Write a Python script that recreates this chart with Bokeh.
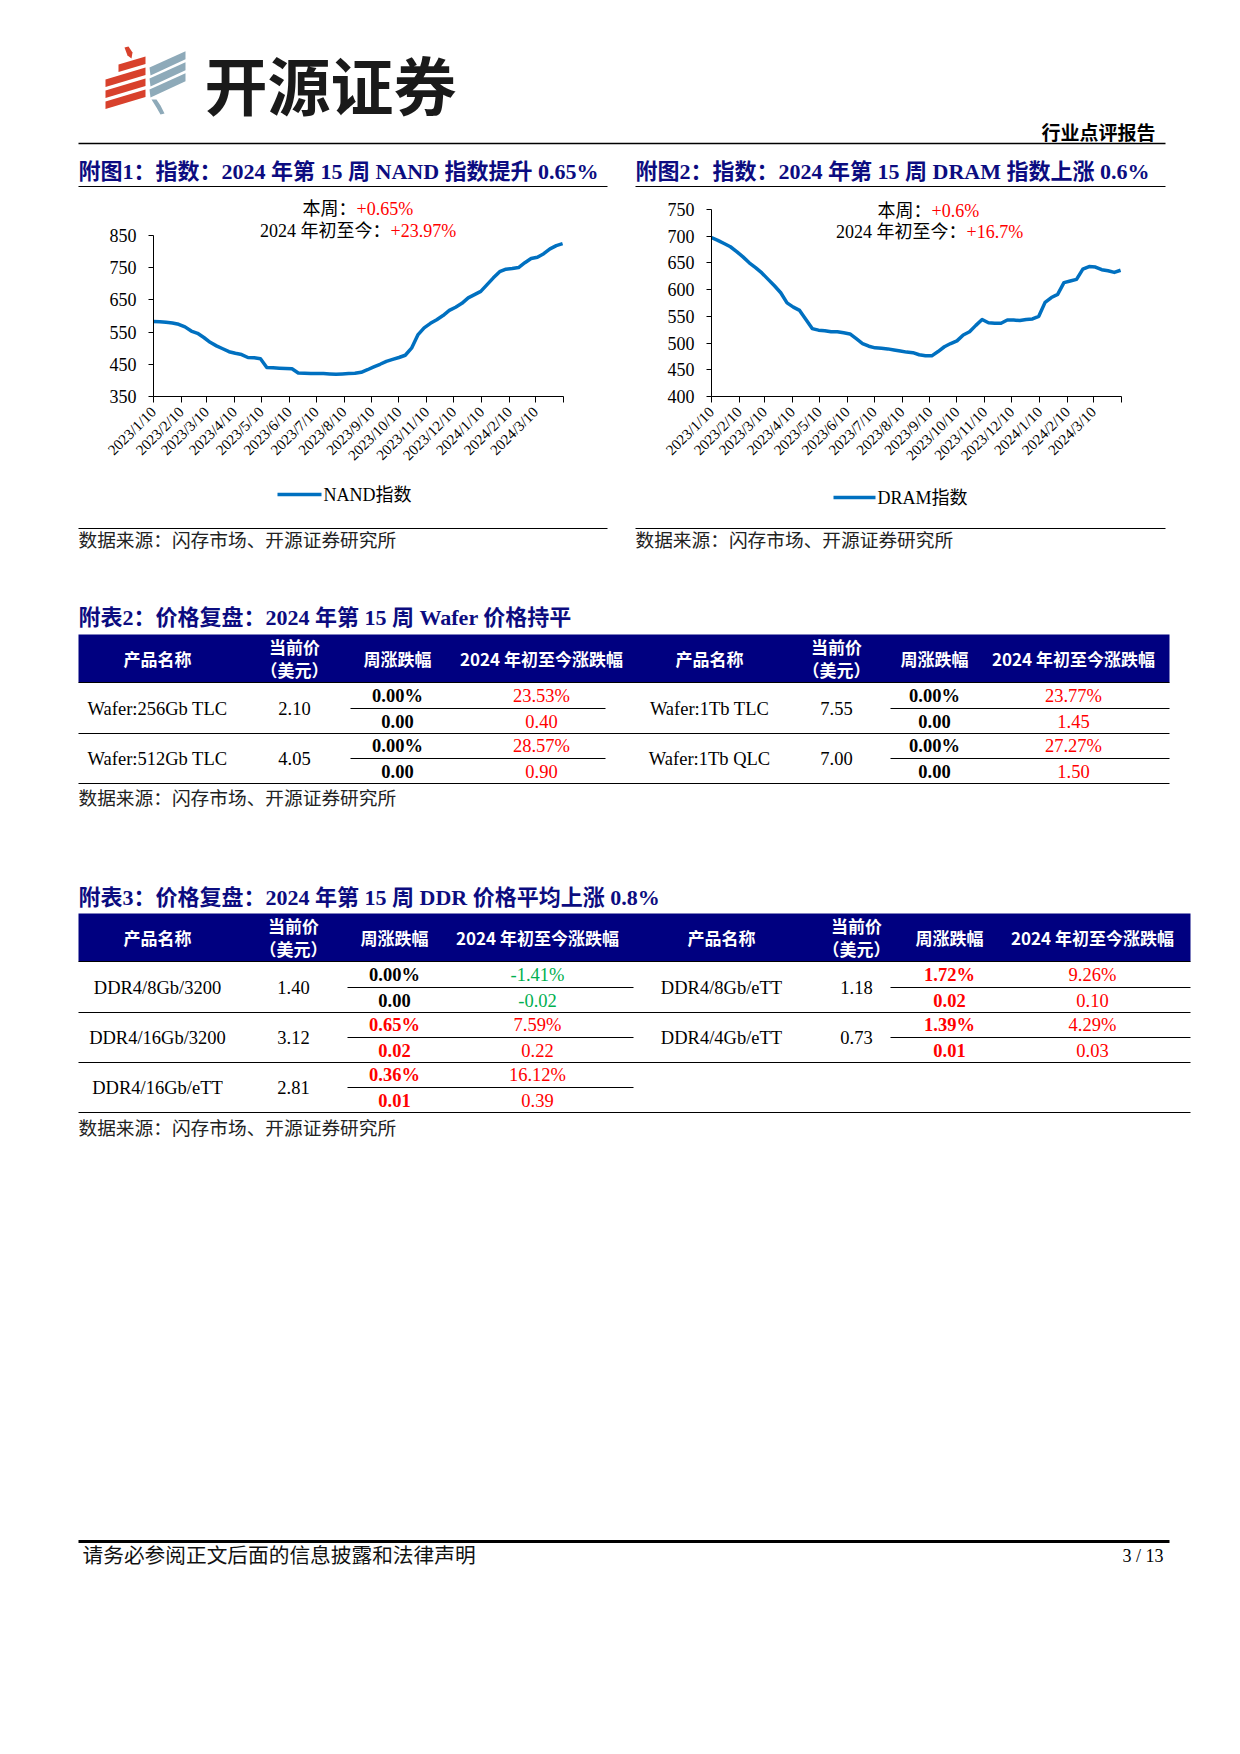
import pandas as pd
from math import pi
from bokeh.plotting import figure
from bokeh.models import Range1d, FixedTicker
from bokeh.layouts import column, row
from bokeh.embed import file_html
from bokeh.resources import INLINE
from bokeh.core.properties import value

# ---------------- data ----------------
month_ticks = ["2023/1/10", "2023/2/10", "2023/3/10", "2023/4/10", "2023/5/10", "2023/6/10",
               "2023/7/10", "2023/8/10", "2023/9/10", "2023/10/10", "2023/11/10", "2023/12/10",
               "2024/1/10", "2024/2/10", "2024/3/10", "2024/4/10"]
hidden_tick_labels = ["2024/4/10"]
first_week = "2023-01-10"

nand_index = [583, 582, 580, 578, 574, 566, 553, 546, 533, 518,
              507, 498, 489, 484, 480, 471, 470, 467, 440, 439,
              438, 437, 436, 423, 422, 421, 421, 421, 420, 419,
              420, 421, 422, 425, 433, 442, 450, 459, 465, 471,
              478, 500, 541, 563, 577, 588, 601, 617, 627, 639,
              656, 666, 676, 697, 718, 737, 745, 747, 750, 765,
              778, 782, 793, 808, 818, 824]
dram_index = [697, 692, 686, 680, 671, 661, 650, 641, 631, 619,
              607, 594, 575, 567, 561, 544, 527, 524, 523, 521,
              521, 519, 517, 508, 499, 494, 491, 490, 489, 487,
              485, 483, 482, 478, 476, 476, 484, 493, 499, 504,
              515, 521, 533, 544, 538, 537, 537, 543, 543, 542,
              544, 545, 550, 576, 585, 591, 613, 616, 619, 638,
              643, 642, 637, 635, 632, 636]
nand_yticks = [350, 450, 550, 650, 750, 850]
dram_yticks = [400, 450, 500, 550, 600, 650, 700, 750]
nand_week, nand_ytd = "+0.65%", "+23.97%"
dram_week, dram_ytd = "+0.6%", "+16.7%"
legend_labels = ["NAND指数", "DRAM指数"]

chart_titles = ["附图1：指数：2024 年第 15 周 NAND 指数提升 0.65%",
                "附图2：指数：2024 年第 15 周 DRAM 指数上涨 0.6%"]
table_titles = ["附表2：价格复盘：2024 年第 15 周 Wafer 价格持平",
                "附表3：价格复盘：2024 年第 15 周 DDR 价格平均上涨 0.8%"]
source_text = "数据来源：闪存市场、开源证券研究所"
header_labels = ["产品名称", "当前价\n（美元）", "周涨跌幅", "2024 年初至今涨跌幅"]

wafer_l_names = ["Wafer:256Gb TLC", "Wafer:512Gb TLC"]
wafer_l_price = [2.10, 4.05]
wafer_l_wk_pct = [0.00, 0.00]
wafer_l_wk_abs = [0.00, 0.00]
wafer_l_ytd_pct = [23.53, 28.57]
wafer_l_ytd_abs = [0.40, 0.90]
wafer_r_names = ["Wafer:1Tb TLC", "Wafer:1Tb QLC"]
wafer_r_price = [7.55, 7.00]
wafer_r_wk_pct = [0.00, 0.00]
wafer_r_wk_abs = [0.00, 0.00]
wafer_r_ytd_pct = [23.77, 27.27]
wafer_r_ytd_abs = [1.45, 1.50]

ddr_l_names = ["DDR4/8Gb/3200", "DDR4/16Gb/3200", "DDR4/16Gb/eTT"]
ddr_l_price = [1.40, 3.12, 2.81]
ddr_l_wk_pct = [0.00, 0.65, 0.36]
ddr_l_wk_abs = [0.00, 0.02, 0.01]
ddr_l_ytd_pct = [-1.41, 7.59, 16.12]
ddr_l_ytd_abs = [-0.02, 0.22, 0.39]
ddr_r_names = ["DDR4/8Gb/eTT", "DDR4/4Gb/eTT"]
ddr_r_price = [1.18, 0.73]
ddr_r_wk_pct = [1.72, 1.39]
ddr_r_wk_abs = [0.02, 0.01]
ddr_r_ytd_pct = [9.26, 4.29]
ddr_r_ytd_abs = [0.10, 0.03]

# ---------------- style ----------------
SERIF = "'Liberation Serif', 'Noto Sans CJK SC', serif"
CJK = "'Noto Sans CJK SC', sans-serif"
NAVY = "#000080"
TITLE_C = "#0c0c80"
RED = "#ff0000"
GREEN = "#00b050"
BLUE = "#0070c0"
PAGE_W = 1240
ROW_TOP, ROW_BOT = 190, 472

def canvas(y0, y1):
    p = figure(width=PAGE_W, height=y1 - y0, x_range=Range1d(0, PAGE_W), y_range=Range1d(y1, y0),
               output_backend="svg", toolbar_location=None, min_border=0,
               x_axis_type=None, y_axis_type=None)
    p.outline_line_color = None
    p.background_fill_color = "white"
    p.border_fill_color = "white"
    return p

def txt(p, x, y, s, size, color="black", align="left", bold=False, font=SERIF):
    p.text(x=[x], y=[y], text=[s], text_font=value(font), text_font_size=f"{size}px",
           text_color=color, text_align=align, text_baseline="middle",
           text_font_style="bold" if bold else "normal")

def hline(p, x0, x1, y, w=1.0, color="black"):
    p.segment(x0=[x0], y0=[y], x1=[x1], y1=[y], line_color=color, line_width=w)

# ---------------- top canvas (page y 0..190) ----------------
top = canvas(0, ROW_TOP)
LOGO_RED = "#d8412c"
LOGO_BLUE = "#8eaab9"
red_xs, red_ys = [], []
for k in range(4):
    xl = 118 if k == 0 else 105
    s = 0.30
    yl_at105 = 68 + 11 * k
    ytl = yl_at105 - s * (xl - 105)
    ytr = yl_at105 - s * (145 - 105)
    red_xs.append([xl, 145, 145, xl])
    red_ys.append([ytl, ytr, ytr + 7.5, ytl + 7.5])
red_xs.append([124, 128, 132, 131, 127])
red_ys.append([47, 46, 52, 58, 55])
top.patches(red_xs, red_ys, fill_color=LOGO_RED, line_color=None)
blue_xs, blue_ys = [], []
for k in range(3):
    s = 0.45
    ytl = 67 + 11 * k
    ytr = ytl - s * (185 - 149)
    blue_xs.append([149, 185, 185, 150])
    blue_ys.append([ytl, ytr, ytr + 8, ytl + 8])
blue_xs.append([151, 156, 160, 164, 160, 156])
blue_ys.append([99, 99, 105, 113, 114, 107])
top.patches(blue_xs, blue_ys, fill_color=LOGO_BLUE, line_color=None)
txt(top, 204, 82, "开源证券", 63, color="#1a1a1a", bold=True, font=CJK)
txt(top, 1155, 131, "行业点评报告", 19, bold=True, align="right", font=CJK)
hline(top, 78, 1165, 143, 1.5)
txt(top, 78, 171, chart_titles[0], 22, color=TITLE_C, bold=True)
txt(top, 635, 171, chart_titles[1], 22, color=TITLE_C, bold=True)
hline(top, 78, 607, 186, 1.2)
hline(top, 635, 1165, 186, 1.2)

# ---------------- charts (page y 190..472) ----------------
base = pd.Timestamp(first_week)
tick_pos = [(pd.Timestamp(t.replace("/", "-")) - base).days for t in month_ticks]
tick_lab = {pos: ("" if t in hidden_tick_labels else t) for pos, t in zip(tick_pos, month_ticks)}

def chart(values, yticks, fig_x0, fig_w, frame_l, frame_r, y_top_px, y_bot_px,
          ann_join_px, ann_y_px, week_s, ytd_s):
    ymin, ymax = yticks[0], yticks[-1]
    upp = (ymax - ymin) / (y_bot_px - y_top_px)  # units per pixel
    frame_top_px = ROW_TOP + 5
    y_end = ymin + (y_bot_px - frame_top_px) * upp
    xmax = tick_pos[-1]
    p = figure(width=fig_w, height=ROW_BOT - ROW_TOP, x_range=Range1d(0, xmax),
               y_range=Range1d(ymin, y_end),
               output_backend="svg", toolbar_location=None,
               min_border_left=frame_l - fig_x0, min_border_right=fig_x0 + fig_w - frame_r,
               min_border_top=frame_top_px - ROW_TOP, min_border_bottom=ROW_BOT - y_bot_px)
    p.outline_line_color = None
    p.grid.visible = False
    p.background_fill_color = "white"
    p.border_fill_color = "white"
    dates = pd.date_range(first_week, periods=len(values), freq="7D")
    xs = [(d - base).days for d in dates]
    p.line(xs, values, line_color=BLUE, line_width=3.5, line_join="round")
    ya = p.yaxis[0]
    ya.ticker = FixedTicker(ticks=yticks)
    ya.bounds = (ymin, ymax)
    ya.major_tick_out = 5
    ya.major_tick_in = 0
    ya.minor_tick_line_color = None
    ya.axis_line_color = "black"
    ya.major_tick_line_color = "black"
    ya.major_label_text_font = SERIF
    ya.major_label_text_font_size = "18px"
    ya.major_label_text_color = "black"
    ya.major_label_standoff = 12
    xa = p.xaxis[0]
    xa.ticker = FixedTicker(ticks=tick_pos)
    xa.major_label_overrides = tick_lab
    xa.major_label_orientation = pi / 4
    xa.major_tick_out = 6
    xa.major_tick_in = 0
    xa.minor_tick_line_color = None
    xa.axis_line_color = "black"
    xa.major_tick_line_color = "black"
    xa.major_label_text_font = SERIF
    xa.major_label_text_font_size = "15px"
    xa.major_label_text_color = "black"
    xa.major_label_standoff = 7
    to_x = lambda px: (px - frame_l) / (frame_r - frame_l) * xmax
    to_y = lambda py: ymin + (y_bot_px - py) * upp
    for (lab, val), jx, py in zip([("本周：", week_s), ("2024 年初至今：", ytd_s)],
                                  ann_join_px, ann_y_px):
        txt(p, to_x(jx), to_y(py), lab, 18, align="right")
        txt(p, to_x(jx), to_y(py), val, 18, color=RED, align="left")
    return p

c1 = chart(nand_index, nand_yticks, 0, 620, 153, 563, 235, 397, [356, 390], [209, 231],
           nand_week, nand_ytd)
c2 = chart(dram_index, dram_yticks, 620, 620, 711, 1121, 209, 399, [931, 966], [211, 232],
           dram_week, dram_ytd)

# ---------------- bottom canvas (page y 472..1600) ----------------
bot = canvas(ROW_BOT, 1600)
for (lx0, lx1, ly), lab in zip([(277, 321, 494), (833, 875, 497)], legend_labels):
    hline(bot, lx0, lx1, ly, 3.5, color=BLUE)
    txt(bot, lx1 + 2, ly, lab, 18)
hline(bot, 78, 607, 528, 1.2)
hline(bot, 635, 1165, 528, 1.2)
txt(bot, 78, 540, source_text, 18.7, color="#222222")
txt(bot, 635, 540, source_text, 18.7, color="#222222")

def sign_color(v):
    return RED if v > 0 else (GREEN if v < 0 else "black")

def draw_table(p, title, title_y, x0, x1, hdr_top, hdr_bot, colx, sub_spans, groups, src_y):
    txt(p, 78, title_y, title, 22, color=TITLE_C, bold=True)
    p.quad(left=[x0], right=[x1], top=[hdr_top], bottom=[hdr_bot], fill_color=NAVY, line_color=None)
    hline(p, x0, x1, hdr_bot, 1.2)
    hmid = (hdr_top + hdr_bot) / 2
    for cx in colx:
        for lab, x in zip(header_labels, cx):
            if "\n" in lab:
                a, b = lab.split("\n")
                txt(p, x, hdr_top + 12, a, 17, color="white", align="center", bold=True, font=CJK)
                txt(p, x, hdr_bot - 13, b, 17, color="white", align="center", bold=True, font=CJK)
            else:
                txt(p, x, hmid, lab, 17, color="white", align="center", bold=True, font=CJK)
    nrows = max(len(g[0]) for g in groups)
    row_h = 50
    for i in range(nrows):
        rt = hdr_bot + 1 + i * row_h
        rc = rt + row_h / 2
        for g, cx, (sl, sr) in zip(groups, colx, sub_spans):
            names, price, wk_pct, wk_abs, ytd_pct, ytd_abs = g
            if i >= len(names):
                continue
            txt(p, cx[0], rc, names[i], 18.5, align="center")
            txt(p, cx[1], rc, f"{price[i]:.2f}", 18.5, align="center")
            hline(p, sl, sr, rc, 1.0)
            txt(p, cx[2], rc - 12.5, f"{wk_pct[i]:.2f}%", 18.5, color=sign_color(wk_pct[i]),
                align="center", bold=True)
            txt(p, cx[2], rc + 12.5, f"{wk_abs[i]:.2f}", 18.5, color=sign_color(wk_abs[i]),
                align="center", bold=True)
            txt(p, cx[3], rc - 12.5, f"{ytd_pct[i]:.2f}%", 18.5, color=sign_color(ytd_pct[i]),
                align="center")
            txt(p, cx[3], rc + 12.5, f"{ytd_abs[i]:.2f}", 18.5, color=sign_color(ytd_abs[i]),
                align="center")
        hline(p, x0, x1, rt + row_h, 1.2)
    txt(p, 78, src_y, source_text, 18.7, color="#222222")

draw_table(bot, table_titles[0], 617, 78, 1169, 634, 682,
           [[157, 294, 397, 541], [709, 836, 934, 1073]],
           [(350, 605), (890, 1169)],
           [(wafer_l_names, wafer_l_price, wafer_l_wk_pct, wafer_l_wk_abs, wafer_l_ytd_pct, wafer_l_ytd_abs),
            (wafer_r_names, wafer_r_price, wafer_r_wk_pct, wafer_r_wk_abs, wafer_r_ytd_pct, wafer_r_ytd_abs)],
           798)
draw_table(bot, table_titles[1], 897, 78, 1190, 913, 961,
           [[157, 293, 394, 537], [721, 856, 949, 1092]],
           [(347, 633), (890, 1190)],
           [(ddr_l_names, ddr_l_price, ddr_l_wk_pct, ddr_l_wk_abs, ddr_l_ytd_pct, ddr_l_ytd_abs),
            (ddr_r_names, ddr_r_price, ddr_r_wk_pct, ddr_r_wk_abs, ddr_r_ytd_pct, ddr_r_ytd_abs)],
           1128)

hline(bot, 78, 1169, 1541, 3)
txt(bot, 82, 1555, "请务必参阅正文后面的信息披露和法律声明", 20.7, color="#111111")
txt(bot, 1163, 1555, "3 / 13", 18, align="right")

layout = column(top, row(c1, c2), bot)
open("out.html", "w").write(file_html(layout, INLINE))
